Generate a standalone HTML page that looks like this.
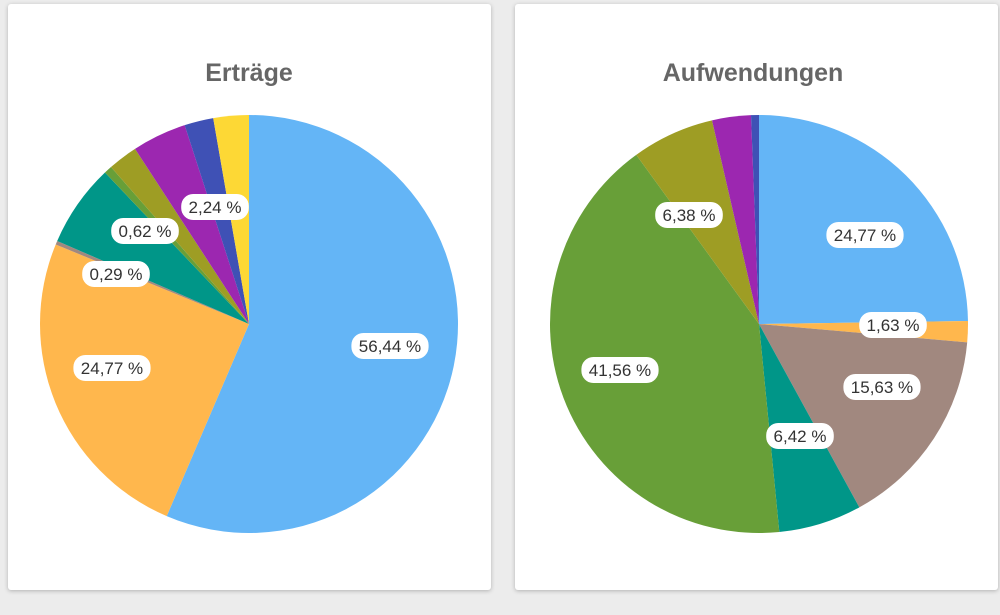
<!DOCTYPE html>
<html><head><meta charset="utf-8"><style>
body{margin:0;width:1000px;height:615px;background:#ececec;overflow:hidden;font-family:"Roboto","Liberation Sans",sans-serif}
.card{position:absolute;top:4px;height:586px;background:#fff;border-radius:3px;box-shadow:0 1px 4px rgba(0,0,0,.25)}
svg{position:absolute;left:0;top:0}
</style></head><body>
<div class="card" style="left:8px;width:483px"></div>
<div class="card" style="left:515px;width:483px"></div>
<svg id="s" width="1000" height="615">
<text x="249" y="81" text-anchor="middle" font-family="Liberation Sans, sans-serif" font-weight="bold" font-size="25" fill="#666">Erträge</text>
<text x="753" y="81" text-anchor="middle" font-family="Liberation Sans, sans-serif" font-weight="bold" font-size="25" fill="#666">Aufwendungen</text>
</svg>
<script>
const C={blue:'#64b5f6',orange:'#ffb74d',brown:'#a1887f',teal:'#009688',green:'#689f38',olive:'#9e9d24',purple:'#9c27b0',indigo:'#3f51b5',yellow:'#fdd835'};
const s=document.getElementById('s');const NS='http://www.w3.org/2000/svg';
function pie(cx,cy,r,data){let a=0;for(const [v,c] of data){const a0=a/100*2*Math.PI;a+=v;const a1=a/100*2*Math.PI;
const p=document.createElementNS(NS,'path');const x0=cx+r*Math.sin(a0),y0=cy-r*Math.cos(a0),x1=cx+r*Math.sin(a1),y1=cy-r*Math.cos(a1);
p.setAttribute('d',`M${cx},${cy}L${x0},${y0}A${r},${r} 0 ${v>50?1:0} 1 ${x1},${y1}Z`);p.setAttribute('fill',C[c]);s.appendChild(p);}}
function lab(x,y,t){const w=t.length*9.6+10;const r=document.createElementNS(NS,'rect');r.setAttribute('x',x-w/2);r.setAttribute('y',y-13);r.setAttribute('width',w);r.setAttribute('height',26);r.setAttribute('rx',12);r.setAttribute('fill','#fff');s.appendChild(r);
const e=document.createElementNS(NS,'text');e.setAttribute('x',x);e.setAttribute('y',y+6);e.setAttribute('text-anchor','middle');e.setAttribute('font-size','17');e.setAttribute('fill','#333');e.setAttribute('font-family','Liberation Sans, sans-serif');e.textContent=t;s.appendChild(e);}
pie(249,324,209,[[56.44,'blue'],[24.77,'orange'],[0.29,'brown'],[6.4,'teal'],[0.62,'green'],[2.3,'olive'],[4.2,'purple'],[2.24,'indigo'],[2.74,'yellow']]);
pie(759,324,209,[[24.77,'blue'],[1.63,'orange'],[15.63,'brown'],[6.42,'teal'],[41.56,'green'],[6.38,'olive'],[3.0,'purple'],[0.61,'indigo']]);
lab(390,346,'56,44 %');lab(112,368,'24,77 %');lab(116,274,'0,29 %');lab(145,231,'0,62 %');lab(215,207,'2,24 %');
lab(865,235,'24,77 %');lab(893,325,'1,63 %');lab(882,387,'15,63 %');lab(800,436,'6,42 %');lab(620,370,'41,56 %');lab(689,215,'6,38 %');
</script>
</body></html>
